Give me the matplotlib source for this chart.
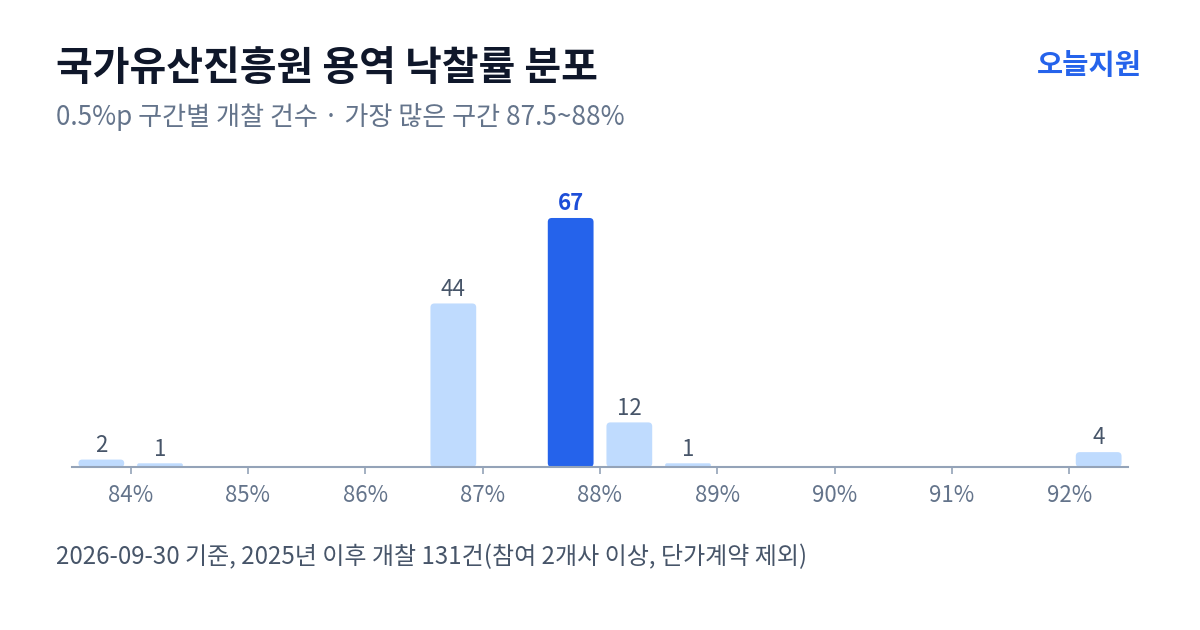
import matplotlib
matplotlib.use("Agg")
import matplotlib.pyplot as plt
from matplotlib.patches import FancyBboxPatch

plt.rcParams['font.family'] = ['Noto Sans CJK KR', 'DejaVu Sans']

# ---- data ----
bin_centers = [83.75, 84.25, 86.75, 87.75, 88.25, 88.75, 92.25]
counts = [2, 1, 44, 67, 12, 1, 4]
highlight_center = 87.75
tick_values = [84, 85, 86, 87, 88, 89, 90, 91, 92]
tick_labels = ["84%", "85%", "86%", "87%", "88%", "89%", "90%", "91%", "92%"]
title = "국가유산진흥원 용역 낙찰률 분포"
subtitle = "0.5%p 구간별 개찰 건수 · 가장 많은 구간 87.5~88%"
brand = "오늘지원"
footer = "2026-09-30 기준, 2025년 이후 개찰 131건(참여 2개사 이상, 단가계약 제외)"

W, H, DPI = 1200, 630, 100
fig = plt.figure(figsize=(W / DPI, H / DPI), dpi=DPI)
fig.patch.set_facecolor("white")

ax_left, ax_right, ax_bottom, ax_top = 72, 1128, 467, 160
ax = fig.add_axes([ax_left / W, 1 - ax_bottom / H,
                   (ax_right - ax_left) / W, (ax_bottom - ax_top) / H])
xmin, xmax = 83.5, 92.5
ymax = 82.6
ax.set_xlim(xmin, xmax)
ax.set_ylim(0, ymax)

px_per_x = (ax_right - ax_left) / (xmax - xmin)
px_per_y = (ax_bottom - ax_top) / ymax
bar_w = 0.39
radius_px = 4.0

for c, v in zip(bin_centers, counts):
    hi = (c == highlight_center)
    color = "#2563eb" if hi else "#bfdbfe"
    h_px = v * px_per_y
    r_px = min(radius_px, h_px / 2, bar_w * px_per_x / 2)
    dr = r_px / px_per_x
    aspect = px_per_x / px_per_y
    patch = FancyBboxPatch((c - bar_w / 2, 0), bar_w, v,
                           boxstyle=f"round,pad=0,rounding_size={dr}",
                           mutation_aspect=aspect,
                           facecolor=color, edgecolor="none", zorder=2)
    ax.add_patch(patch)
    ax.annotate(str(v), xy=(c, v), xytext=(0, 5.5), textcoords="offset points",
                ha="center", va="baseline", fontsize=16,
                color="#1d4ed8" if hi else "#475569",
                fontweight="bold" if hi else "normal", zorder=3)

for s in ["top", "right", "left"]:
    ax.spines[s].set_visible(False)
ax.spines["bottom"].set_color("#94a3b8")
ax.spines["bottom"].set_linewidth(1.5)
ax.set_yticks([])
ax.set_xticks(tick_values)
ax.set_xticklabels(tick_labels)
ax.tick_params(axis="x", length=5, width=1.2, color="#94a3b8",
               labelcolor="#64748b", labelsize=16, pad=7)
ax.set_facecolor("none")

fig.text(56 / W, 1 - 68 / H, title, fontsize=28.8, fontweight="bold",
         color="#0f172a", ha="left", va="center")
fig.text(56 / W, 1 - 117 / H, subtitle, fontsize=18.8, color="#64748b",
         ha="left", va="center")
fig.text(1142 / W, 1 - 66 / H, brand, fontsize=20.5, fontweight="bold",
         color="#2563eb", ha="right", va="center")
fig.text(56 / W, 1 - 557 / H, footer, fontsize=17.3, color="#475569",
         ha="left", va="center")

fig.savefig("out.png", dpi=DPI, facecolor="white")
